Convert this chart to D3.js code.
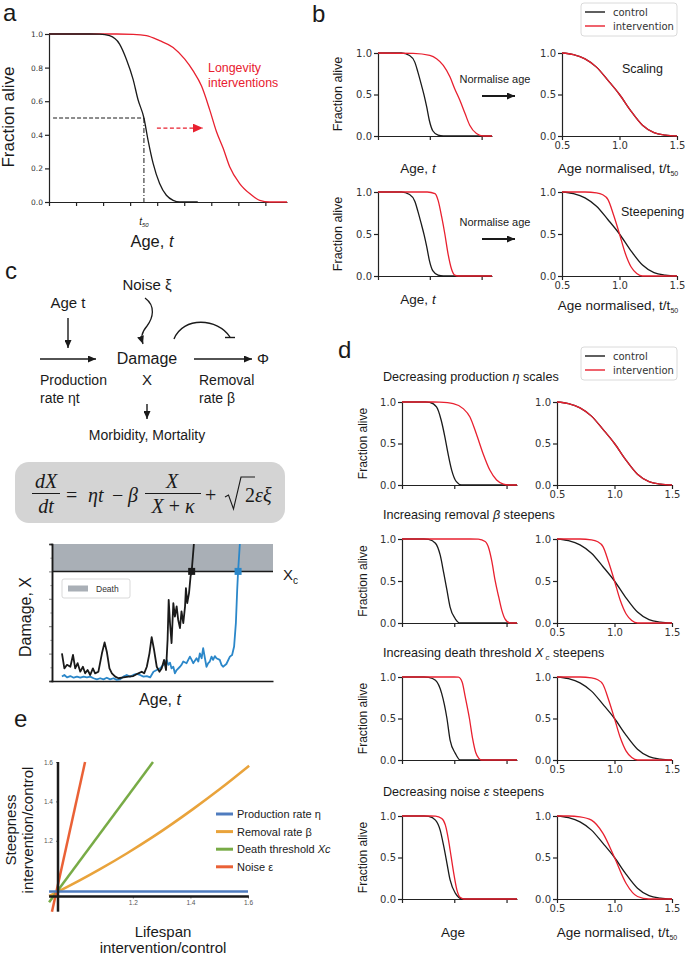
<!DOCTYPE html>
<html>
<head>
<meta charset="utf-8">
<title>Survival curves, damage model and steepness</title>
<script src="https://cdnjs.cloudflare.com/ajax/libs/d3/7.8.5/d3.min.js"></script>
<style>
body { margin: 0; background: #fff; }
svg text { font-family: "Liberation Sans", Arial, sans-serif; fill: #1a1a1a; }
</style>
</head>
<body>
<svg id="fig" width="685" height="956"></svg>
<script>
// ---- panel a: survival curves (age units, ticks 0..8)
const aCtrlT = [0, 1.5, 1.87, 2.24, 2.61, 2.86, 3.11, 3.29, 3.51, 3.66, 3.85, 4.09, 4.34, 4.59, 4.83, 5.5];
const aCtrlS = [1, 1, 0.999, 0.99, 0.94, 0.85, 0.73, 0.61, 0.5, 0.37, 0.23, 0.11, 0.04, 0.01, 0, 0];
const aIntT = [0, 2.5, 3.11, 3.6, 4.09, 4.59, 5.02, 5.33, 5.64, 5.94, 6.19, 6.44, 6.68, 7.05, 7.42, 7.79, 8.16, 8.8];
const aIntS = [1, 1, 0.998, 0.99, 0.96, 0.92, 0.85, 0.78, 0.69, 0.55, 0.42, 0.32, 0.21, 0.11, 0.05, 0.01, 0, 0];
const aT50 = 3.51;

// ---- panel b
const bCtrlT = [0, 0.45, 0.61, 0.71, 0.77, 0.84, 0.89, 0.94, 0.99, 1.06, 1.16, 1.26, 2.2];
const bCtrlS = [1, 1, 0.97, 0.89, 0.77, 0.61, 0.49, 0.35, 0.19, 0.06, 0.01, 0, 0];
const bScaleT = [0, 0.68, 1.0, 1.13, 1.26, 1.39, 1.48, 1.58, 1.68, 1.77, 1.9, 2.03, 2.2];
const bScaleS = [1, 0.995, 0.97, 0.93, 0.85, 0.71, 0.57, 0.43, 0.27, 0.13, 0.03, 0, 0];
const bSteepT = [0, 0.95, 1.1, 1.16, 1.23, 1.29, 1.35, 1.42, 1.48, 1.55, 2.2];
const bSteepS = [1, 1, 0.98, 0.9, 0.7, 0.5, 0.27, 0.08, 0.01, 0, 0];

// normalised age curves (t / t50)
const normT = [0.5, 0.6, 0.7, 0.8, 0.9, 1.0, 1.1, 1.2, 1.3, 1.4, 1.5];
const ctrlNormS = [1, 0.98, 0.93, 0.83, 0.67, 0.5, 0.3, 0.13, 0.04, 0.01, 0];
const steepNormT = [0.5, 0.7, 0.8, 0.85, 0.9, 0.95, 1.0, 1.05, 1.1, 1.15, 1.2, 1.5];
const steepNormS = [1, 1, 0.99, 0.97, 0.91, 0.72, 0.5, 0.27, 0.11, 0.03, 0, 0];
const noiseNormT = [0.5, 0.6, 0.7, 0.8, 0.9, 1.0, 1.1, 1.2, 1.3, 1.5];
const noiseNormS = [1, 1, 0.99, 0.95, 0.79, 0.5, 0.19, 0.03, 0, 0];

// ---- panel d, one pair per row
const dCtrl1T = [0, 0.45, 0.53, 0.66, 0.75, 0.82, 0.88, 0.95, 1.04, 1.14, 2.2];
const dCtrl1S = [1, 1, 0.995, 0.94, 0.78, 0.58, 0.38, 0.18, 0.04, 0, 0];
const dInt1T = [0, 0.6, 0.72, 0.98, 1.17, 1.3, 1.42, 1.55, 1.68, 1.81, 1.94, 2.03, 2.2];
const dInt1S = [1, 1, 0.998, 0.98, 0.92, 0.82, 0.62, 0.38, 0.18, 0.06, 0.01, 0, 0];
const dCtrl2T = [0, 0.42, 0.51, 0.64, 0.73, 0.8, 0.86, 0.92, 1.02, 1.11, 2.2];
const dCtrl2S = [1, 1, 0.995, 0.95, 0.81, 0.59, 0.39, 0.19, 0.05, 0, 0];
const dInt2T = [0, 1.3, 1.46, 1.59, 1.66, 1.72, 1.78, 1.85, 1.91, 1.97, 2.07, 2.2];
const dInt2S = [1, 1, 0.998, 0.97, 0.89, 0.73, 0.51, 0.31, 0.15, 0.05, 0, 0];
const dCtrl3T = [0, 0.42, 0.51, 0.64, 0.76, 0.86, 0.92, 1.02, 1.11, 2.2];
const dCtrl3S = [1, 1, 0.995, 0.96, 0.8, 0.5, 0.24, 0.08, 0, 0];
const dInt3T = [0, 1.0, 1.08, 1.15, 1.21, 1.29, 1.35, 1.41, 1.47, 1.52, 2.2];
const dInt3S = [1, 1, 0.998, 0.94, 0.76, 0.5, 0.26, 0.09, 0.02, 0, 0];
const dCtrl4T = [0, 0.42, 0.51, 0.64, 0.73, 0.8, 0.86, 0.92, 1.02, 1.15, 2.2];
const dCtrl4S = [1, 1, 0.995, 0.95, 0.83, 0.63, 0.43, 0.23, 0.07, 0, 0];
const dInt4T = [0, 0.55, 0.64, 0.76, 0.83, 0.89, 0.94, 0.99, 1.05, 1.11, 1.18, 2.2];
const dInt4S = [1, 1, 0.998, 0.97, 0.89, 0.71, 0.51, 0.31, 0.11, 0.02, 0, 0];

// ---- panel c: damage trajectories
const blackT = [4.5,5.6,6.8,8.3,9.5,10.5,11.6,12.8,14,15,16.1,17.3,18.5,19.5,21,22.6,23.8,24.8,26,27.1,28.6,30.1,32.3,34.6,36.8,39.1,40.6,41.7,42.9,44.1,45.1,46.2,47.4,48.6,49.6,50.7,51.6,52.3,52.8,53.4,54.1,54.9,55.6,56.4,57.1,57.9,58.6,59.4,60.2,60.6,61.2,62,62.7,63.2,64.2];
const blackX = [1.01,0.46,0.59,0.52,0.95,0.46,0.65,0.34,0.52,0.28,0.4,0.22,0.46,0.28,0.34,1.01,1.41,1.07,0.46,0.28,0.16,0.1,0.13,0.16,0.18,0.28,0.34,0.28,0.52,1.01,1.6,1.13,0.52,0.34,0.46,0.77,0.4,1.5,2.96,2.11,1.38,2.84,2.35,2.72,2.23,1.93,2.54,2.11,2.72,3.39,2.84,3.21,3.82,4.0,5.0];
const blueT = [4.5,5.6,6.8,8.3,9.8,11.3,12.8,14.3,15.8,17.3,18.8,20.3,21.8,23.3,24.8,26.3,27.8,29.3,30.8,32.3,33.8,35.3,36.8,38.3,39.8,41.4,42.9,44.4,45.9,47.4,48.9,50.4,51.9,52.6,53.4,54.1,54.9,55.6,56.4,57.9,58.6,59.4,60.9,62.4,63.2,63.9,65.4,66.2,66.9,67.7,68.4,69.2,69.9,70.7,71.4,72.2,72.9,73.7,74.4,75.9,76.7,77.4,78.9,80.5,81.5,82.4,83.2,83.8,84.2,85];
const blueX = [.16,.22,.13,.18,.12,.16,.12,.16,.13,.16,.10,.06,.10,.06,.12,.06,.10,.04,.06,.16,.22,.16,.22,.26,.22,.16,.18,.13,.34,.40,.46,.59,.77,.59,.67,.46,.52,.28,.40,.52,.59,.71,.65,.89,.77,.65,.83,.71,1.01,.83,1.2,.83,.52,.65,.71,.89,.77,.91,.83,.77,.59,.52,.62,.89,.95,1.26,2.11,3.33,4.0,5.0];
const xcLevel = 4;
const crossT = [63.2, 84.2];

// ---- panel e: steepness vs lifespan ratios
const eLabels = ["Production rate ", "Removal rate ", "Death threshold ", "Noise "];
const eSymbols = ["η", "β", "Xc", "ε"];
const eColors = ["#4f7cbf", "#e9a33b", "#78ab46", "#ea6136"];
const eLife = [[0.909, 1.6], [0.909, 0.94, 1.086, 1.18, 1.271, 1.41, 1.5, 1.604], [0.909, 1.27], [0.919, 1.034]];
const eSteep = [[0.942, 0.942], [0.92, 0.942, 1.056, 1.137, 1.221, 1.362, 1.46, 1.581], [0.888, 1.6], [0.84, 1.6]];
const eTicks = [1.2, 1.4, 1.6];

const RED = "#e8202f", BLK = "#1a1a1a";
const svg = d3.select("#fig");
const defs = svg.append("defs");

function marker(id, color, w, h) {
  defs.append("marker").attr("id", id).attr("viewBox", `0 0 ${w} ${h}`)
    .attr("refX", w).attr("refY", h / 2).attr("markerWidth", w).attr("markerHeight", h)
    .attr("markerUnits", "userSpaceOnUse").attr("orient", "auto")
    .append("path").attr("d", `M0,0L${w},${h / 2}L0,${h}z`).attr("fill", color);
}
marker("ah", BLK, 8, 7);
marker("ahRed", RED, 10, 9);

function label(x, y, parts, o = {}) {
  const t = svg.append("text").attr("x", x).attr("y", y)
    .attr("font-size", o.size || 12).attr("text-anchor", o.anchor || "start");
  if (o.rotate) t.attr("transform", `rotate(-90,${x},${y})`);
  if (o.fill) t.style("fill", o.fill);
  if (o.family) t.style("font-family", o.family);
  if (o.italic) t.attr("font-style", "italic");
  if (typeof parts === "string") parts = [parts];
  parts.forEach(p => {
    const s = typeof p === "string" ? { t: p } : p;
    const ts = t.append("tspan").text(s.t);
    if (s.i) ts.attr("font-style", "italic");
    if (s.fs) ts.attr("font-size", s.fs);
    if (s.dy) ts.attr("dy", s.dy);
  });
  return t;
}

function arrow(x1, y1, x2, y2, w, id) {
  svg.append("line").attr("x1", x1).attr("y1", y1).attr("x2", x2).attr("y2", y2)
    .attr("stroke", id === "ahRed" ? RED : BLK).attr("stroke-width", w || 1.4)
    .attr("marker-end", `url(#${id || "ah"})`);
}

function survPlot(o) {
  const x = d3.scaleLinear().domain(o.xdom).range([o.left, o.right]);
  const y = d3.scaleLinear().domain([0, 1]).range([o.bottom, o.top]);
  const g = svg.append("g");
  const xa = d3.axisBottom(x).tickValues(o.xticks).tickSizeInner(4).tickSizeOuter(0).tickPadding(2)
    .tickFormat(o.xlabels ? d3.format(".1f") : "");
  g.append("g").attr("transform", `translate(0,${o.bottom})`).call(xa);
  g.append("g").attr("transform", `translate(${o.left},0)`)
    .call(d3.axisLeft(y).tickValues(o.yticks).tickFormat(d3.format(".1f")).tickSizeInner(4).tickSizeOuter(0).tickPadding(2));
  g.selectAll("g").attr("font-family", "DejaVu Sans, sans-serif").attr("font-size", o.fs);
  g.selectAll(".tick text").style("font-family", "DejaVu Sans, sans-serif").style("fill", "#333");
  g.selectAll(".domain, .tick line").attr("stroke", "#222").attr("stroke-width", 1.2);
  const line = d3.line().x(d => x(d[0])).y(d => y(d[1])).curve(d3.curveMonotoneX);
  o.series.forEach(s => {
    g.append("path").datum(d3.zip(s.t, s.s)).attr("d", line).attr("fill", "none")
      .attr("stroke", s.color).attr("stroke-width", s.w || 1.3);
  });
  return { x, y };
}

// ================= panel a =================
label(3, 21, "a", { size: 24 });
const pa = survPlot({
  left: 49, right: 287, top: 34, bottom: 202, xdom: [0, 8.8],
  xticks: d3.range(0, 9), yticks: [0, 0.2, 0.4, 0.6, 0.8, 1.0], fs: 7.5,
  series: [{ t: aIntT, s: aIntS, color: RED }, { t: aCtrlT, s: aCtrlS, color: BLK }]
});
svg.append("line").attr("x1", pa.x(0.15)).attr("x2", pa.x(aT50)).attr("y1", pa.y(0.5)).attr("y2", pa.y(0.5))
  .attr("stroke", BLK).attr("stroke-width", 1).attr("stroke-dasharray", "4,2");
svg.append("line").attr("x1", pa.x(aT50)).attr("x2", pa.x(aT50)).attr("y1", pa.y(0.5)).attr("y2", pa.y(0))
  .attr("stroke", BLK).attr("stroke-width", 1).attr("stroke-dasharray", "5,2,1,2");
svg.append("line").attr("x1", pa.x(3.99)).attr("x2", pa.x(5.69)).attr("y1", pa.y(0.44)).attr("y2", pa.y(0.44))
  .attr("stroke", RED).attr("stroke-width", 1.3).attr("stroke-dasharray", "4,2.5").attr("marker-end", "url(#ahRed)");
label(pa.x(aT50), 225, [{ t: "t", i: true }, { t: "50", fs: 6, dy: 2, i: true }], { size: 10, anchor: "middle" });
label(208, 72, "Longevity", { size: 12.4, fill: RED });
label(208, 87, "interventions", { size: 12.4, fill: RED });
label(14, 117, "Fraction alive", { size: 17, rotate: true, anchor: "middle" });
label(152, 247, ["Age, ", { t: "t", i: true }], { size: 16.5, anchor: "middle" });

// ================= panel b =================
label(312, 22, "b", { size: 24 });
function legendBox(y) {
  svg.append("rect").attr("x", 581).attr("y", y).attr("width", 96).attr("height", 33).attr("rx", 3)
    .attr("fill", "#fff").attr("stroke", "#d0d0d0").attr("stroke-width", 0.8);
  [["control", BLK], ["intervention", RED]].forEach((d, i) => {
    const cy = y + 9 + i * 14;
    svg.append("line").attr("x1", 585).attr("x2", 605).attr("y1", cy).attr("y2", cy).attr("stroke", d[1]).attr("stroke-width", 1.4);
    label(613, cy + 3.6, d[0], { size: 10, family: "DejaVu Sans, sans-serif", fill: "#333" });
  });
}
legendBox(3);
survPlot({ left: 378, right: 492, top: 53, bottom: 136, xdom: [0, 2.2], xticks: [0, 1, 2], yticks: [0, 0.5, 1], fs: 10,
  series: [{ t: bCtrlT, s: bCtrlS, color: BLK }, { t: bScaleT, s: bScaleS, color: RED }] });
survPlot({ left: 562, right: 677, top: 53, bottom: 136, xdom: [0.5, 1.5], xticks: [0.5, 1, 1.5], xlabels: true, yticks: [0, 0.5, 1], fs: 10,
  series: [{ t: normT, s: ctrlNormS, color: BLK }, { t: normT, s: ctrlNormS, color: RED }] });
survPlot({ left: 378, right: 492, top: 192, bottom: 276, xdom: [0, 2.2], xticks: [0, 1, 2], yticks: [0, 0.5, 1], fs: 10,
  series: [{ t: bCtrlT, s: bCtrlS, color: BLK }, { t: bSteepT, s: bSteepS, color: RED }] });
survPlot({ left: 562, right: 677, top: 192, bottom: 276, xdom: [0.5, 1.5], xticks: [0.5, 1, 1.5], xlabels: true, yticks: [0, 0.5, 1], fs: 10,
  series: [{ t: normT, s: ctrlNormS, color: BLK }, { t: steepNormT, s: steepNormS, color: RED }] });
label(342, 94, "Fraction alive", { size: 12.5, rotate: true, anchor: "middle" });
label(342, 234, "Fraction alive", { size: 12.5, rotate: true, anchor: "middle" });
label(495, 83, "Normalise age", { size: 11, anchor: "middle" });
label(495, 226, "Normalise age", { size: 11, anchor: "middle" });
arrow(482, 96, 515, 96, 1.8);
arrow(482, 239, 515, 239, 1.8);
label(622, 73, "Scaling", { size: 12.5 });
label(621, 216, "Steepening", { size: 12.5 });
const tsub = (sz) => ["Age normalised, t/t", { t: "50", fs: sz, dy: 3 }];
label(418, 173, ["Age, ", { t: "t", i: true }], { size: 13.5, anchor: "middle" });
label(618, 173, tsub(7), { size: 13.5, anchor: "middle" });
label(418, 304, ["Age, ", { t: "t", i: true }], { size: 13.5, anchor: "middle" });
label(618, 310, tsub(7), { size: 13.5, anchor: "middle" });

// ================= panel c =================
label(5, 279, "c", { size: 24 });
const dia = 15;
label(147, 290, "Noise ξ", { size: dia, anchor: "middle" });
label(68, 308, "Age t", { size: dia, anchor: "middle" });
label(147, 364, "Damage", { size: dia + 1, anchor: "middle" });
label(147, 385, "X", { size: dia, anchor: "middle" });
label(40, 385, "Production", { size: dia - 1 });
label(40, 403, "rate   ηt", { size: dia - 1 });
label(199, 385, "Removal", { size: dia - 1 });
label(199, 403, "rate   β", { size: dia - 1 });
label(263, 364, "Φ", { size: dia, anchor: "middle" });
label(147, 440, "Morbidity, Mortality", { size: dia - 1, anchor: "middle" });
arrow(68, 318, 68, 348);
arrow(40, 359, 96, 359);
arrow(194, 359, 252, 359);
arrow(147, 404, 147, 419);
svg.append("path").attr("d", "M145,298 C156,306 153,318 147,326 C141,333 141,338 143,344")
  .attr("fill", "none").attr("stroke", BLK).attr("stroke-width", 1.3).attr("marker-end", "url(#ah)");
svg.append("path").attr("d", "M174,339 C183,316 218,318 230,337")
  .attr("fill", "none").attr("stroke", BLK).attr("stroke-width", 1.4);
svg.append("line").attr("x1", 225).attr("x2", 235).attr("y1", 337.5).attr("y2", 337.5).attr("stroke", BLK).attr("stroke-width", 1.4);

// equation box
svg.append("rect").attr("x", 15).attr("y", 462).attr("width", 270).attr("height", 61).attr("rx", 14).attr("fill", "#d4d4d4");
const eq = { size: 20, family: "Liberation Serif, 'DejaVu Serif', serif" };
const eqI = Object.assign({ italic: true }, eq);
label(46, 488, "dX", Object.assign({ anchor: "middle" }, eqI));
label(46, 513, "dt", Object.assign({ anchor: "middle" }, eqI));
svg.append("line").attr("x1", 32).attr("x2", 60).attr("y1", 493.5).attr("y2", 493.5).attr("stroke", BLK).attr("stroke-width", 1);
label(66, 502, "=", eq);
label(88, 502, "ηt", eqI);
label(112, 502, "−", eq);
label(128, 502, "β", eqI);
label(172, 488, "X", Object.assign({ anchor: "middle" }, eqI));
label(173, 513, [{ t: "X", i: true }, " + ", { t: "κ", i: true }], Object.assign({ anchor: "middle" }, eq));
svg.append("line").attr("x1", 145).attr("x2", 201).attr("y1", 493.5).attr("y2", 493.5).attr("stroke", BLK).attr("stroke-width", 1);
label(205, 502, "+", eq);
svg.append("path").attr("d", "M225,497 L228.5,495 L233.5,509 L241,477 L255,477")
  .attr("fill", "none").attr("stroke", BLK).attr("stroke-width", 1.1);
label(245, 502, "2", eq);
label(255, 502, "εξ", eqI);

// damage plot
const dx = d3.scaleLinear().domain([0, 100]).range([52, 273]);
const dy = d3.scaleLinear().domain([0, 5]).range([681, 544]);
defs.append("clipPath").attr("id", "dclip").append("rect")
  .attr("x", dx(0)).attr("y", dy(5)).attr("width", dx(100) - dx(0)).attr("height", dy(0) - dy(5));
svg.append("rect").attr("x", dx(0)).attr("y", dy(5)).attr("width", dx(100) - dx(0)).attr("height", dy(xcLevel) - dy(5)).attr("fill", "#a9afb6");
const dg = svg.append("g");
dg.append("g").attr("transform", `translate(${dx(0)},0)`)
  .call(d3.axisLeft(dy).tickValues(d3.range(0, 6)).tickSize(3).tickFormat(""));
dg.append("g").attr("transform", `translate(${dx(0)},0)`)
  .call(d3.axisLeft(dy).tickValues(d3.range(0.5, 5, 1)).tickSize(1.5).tickFormat(""));
dg.append("g").attr("transform", `translate(0,${dy(0)})`).call(d3.axisBottom(dx).tickValues([]).tickSizeOuter(0));
dg.selectAll(".domain").attr("stroke", BLK).attr("stroke-width", 1.5);
dg.selectAll(".tick line").attr("stroke-width", 0.8).attr("stroke", "#555");
svg.append("line").attr("x1", dx(0)).attr("x2", dx(100)).attr("y1", dy(xcLevel)).attr("y2", dy(xcLevel)).attr("stroke", BLK).attr("stroke-width", 1.5);
const tline = d3.line().x(d => dx(d[0])).y(d => dy(d[1]));
const trajG = svg.append("g").attr("clip-path", "url(#dclip)");
trajG.append("path").datum(d3.zip(blueT, blueX)).attr("d", tline).attr("fill", "none").attr("stroke", "#2b87c9").attr("stroke-width", 1.8).attr("stroke-linejoin", "round");
trajG.append("path").datum(d3.zip(blackT, blackX)).attr("d", tline).attr("fill", "none").attr("stroke", BLK).attr("stroke-width", 1.8).attr("stroke-linejoin", "round");
svg.selectAll("rect.cross").data(crossT).join("rect").attr("class", "cross")
  .attr("x", d => dx(d) - 3.5).attr("y", dy(xcLevel) - 3.5).attr("width", 7).attr("height", 7)
  .attr("fill", (d, i) => i === 0 ? BLK : "#2b87c9");
label(283, 580, ["X", { t: "c", fs: 10, dy: 4 }], { size: 15 });
svg.append("rect").attr("x", 62).attr("y", 579).attr("width", 68).attr("height", 19).attr("rx", 2)
  .attr("fill", "#fff").attr("stroke", "#cfcfcf").attr("stroke-width", 0.8);
svg.append("rect").attr("x", 68).attr("y", 585.5).attr("width", 20).attr("height", 6).attr("fill", "#a9afb6");
label(96, 592, "Death", { size: 8.5, fill: "#333" });
label(31, 617, "Damage, X", { size: 16, rotate: true, anchor: "middle" });
label(160, 705, ["Age, ", { t: "t", i: true }], { size: 16, anchor: "middle" });

// ================= panel d =================
label(338, 358, "d", { size: 24 });
legendBox(347);
const dRows = [
  { top: 402, bottom: 485, title: ["Decreasing production ", { t: "η", i: true }, " scales"], tb: 381,
    ct: dCtrl1T, cs: dCtrl1S, it: dInt1T, is: dInt1S, nt: normT, ns: ctrlNormS },
  { top: 539, bottom: 623, title: ["Increasing removal ", { t: "β", i: true }, " steepens"], tb: 519,
    ct: dCtrl2T, cs: dCtrl2S, it: dInt2T, is: dInt2S, nt: steepNormT, ns: steepNormS },
  { top: 677, bottom: 760, title: ["Increasing death threshold ", { t: "X", i: true }, { t: " c", i: true, fs: 8, dy: 3 }, { t: " steepens", dy: -3 }], tb: 657,
    ct: dCtrl3T, cs: dCtrl3S, it: dInt3T, is: dInt3S, nt: steepNormT, ns: steepNormS },
  { top: 816, bottom: 899, title: ["Decreasing noise ", { t: "ε", i: true }, " steepens"], tb: 796,
    ct: dCtrl4T, cs: dCtrl4S, it: dInt4T, is: dInt4S, nt: noiseNormT, ns: noiseNormS }
];
dRows.forEach(r => {
  label(383, r.tb, r.title, { size: 12.6 });
  survPlot({ left: 402, right: 517, top: r.top, bottom: r.bottom, xdom: [0, 2.2], xticks: [0, 1, 2], yticks: [0, 0.5, 1], fs: 10,
    series: [{ t: r.ct, s: r.cs, color: BLK }, { t: r.it, s: r.is, color: RED }] });
  survPlot({ left: 557, right: 672, top: r.top, bottom: r.bottom, xdom: [0.5, 1.5], xticks: [0.5, 1, 1.5], xlabels: true, yticks: [0, 0.5, 1], fs: 10,
    series: [{ t: normT, s: ctrlNormS, color: BLK }, { t: r.nt, s: r.ns, color: RED }] });
  label(367, (r.top + r.bottom) / 2, "Fraction alive", { size: 12, rotate: true, anchor: "middle" });
});
label(453, 937, "Age", { size: 13.5, anchor: "middle" });
label(617, 937, tsub(7), { size: 13.5, anchor: "middle" });

// ================= panel e =================
label(14, 727, "e", { size: 24 });
const ex = d3.scaleLinear().domain([0.94, 1.6]).range([58, 248]);
const ey = d3.scaleLinear().domain([0.94, 1.6]).range([892, 762]);
const eg = svg.append("g");
eg.append("g").attr("transform", `translate(0,${ey(0.917)})`)
  .call(d3.axisBottom(ex).tickValues(eTicks).tickSize(2).tickPadding(2).tickFormat(d3.format(".1f")));
eg.append("g").attr("transform", `translate(${ex(0.94)},0)`)
  .call(d3.axisLeft(ey).tickValues(eTicks).tickSize(2).tickPadding(3).tickFormat(d3.format(".1f")));
eg.selectAll(".domain").remove();
eg.selectAll(".tick line").attr("stroke", "#777");
eg.selectAll(".tick text").style("font-size", "6.5px").style("fill", "#555");
const eline = d3.line().x(d => ex(d[0])).y(d => ey(d[1])).curve(d3.curveMonotoneX);
[1, 2, 3, 0].forEach(i => {
  svg.append("path").datum(d3.zip(eLife[i], eSteep[i])).attr("d", eline).attr("fill", "none")
    .attr("stroke", eColors[i]).attr("stroke-width", 2.5);
});
svg.append("line").attr("x1", ex(0.94)).attr("x2", ex(0.94)).attr("y1", ey(1.6)).attr("y2", ey(0.84)).attr("stroke", BLK).attr("stroke-width", 2.5);
svg.append("line").attr("x1", ex(0.909)).attr("x2", ex(1.603)).attr("y1", ey(0.917)).attr("y2", ey(0.917)).attr("stroke", BLK).attr("stroke-width", 2.5);
eLabels.forEach((l, i) => {
  const cy = 814 + i * 17.6;
  svg.append("line").attr("x1", 216).attr("x2", 233).attr("y1", cy).attr("y2", cy).attr("stroke", eColors[i]).attr("stroke-width", 3);
  const sym = i === 2 ? { t: "Xc", i: true } : { t: eSymbols[i] };
  label(237, cy + 4, [l, sym], { size: 11 });
});
label(16, 830, "Steepness", { size: 15, rotate: true, anchor: "middle" });
label(33, 830, "intervention/control", { size: 15, rotate: true, anchor: "middle" });
label(163, 937, "Lifespan", { size: 15, anchor: "middle" });
label(163, 953, "intervention/control", { size: 15, anchor: "middle" });
</script>
</body>
</html>
